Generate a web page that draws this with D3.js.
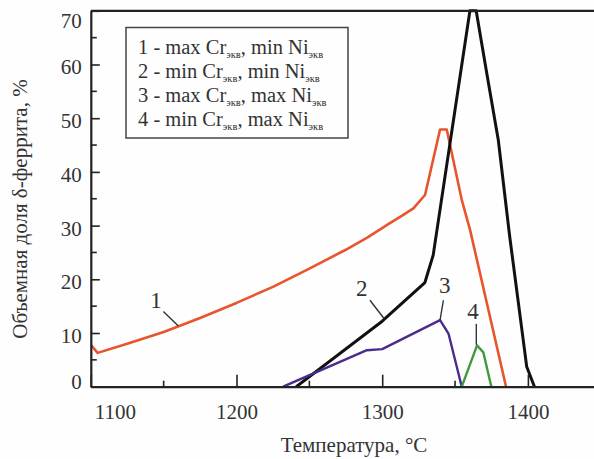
<!DOCTYPE html>
<html>
<head>
<meta charset="utf-8">
<script src="https://cdn.jsdelivr.net/npm/d3@7"></script>
<style>
  body { margin: 0; background: #fff; }
  svg { display: block; }
  text { font-family: "Liberation Serif", "Times New Roman", serif; fill: #333; }
</style>
</head>
<body>
<svg id="chart" width="594" height="459"></svg>
<script>
// Axis ticks
const xTickValues = [1100, 1200, 1300, 1400];
const xMinorTicks = [1150, 1250, 1350];
const yTickValues = [0, 10, 20, 30, 40, 50, 60, 70];
const yMinorTicks = [5, 15, 25, 35, 45, 55, 65];

// Curve 1: max Cr_экв, min Ni_экв
const temp1 = [1100, 1104.7, 1125, 1150, 1175, 1200, 1225, 1250, 1275, 1290, 1305, 1314.5, 1321.4, 1329.4, 1339.7, 1344.3, 1354.6, 1360.3, 1385];
const ferrite1 = [7.8, 6.3, 8.0, 10.2, 12.8, 15.6, 18.6, 22.0, 25.5, 27.8, 30.4, 32.0, 33.2, 35.7, 47.9, 47.9, 34.8, 29.2, 0];

// Curve 2: min Cr_экв, min Ni_экв
const temp2 = [1241, 1300, 1329.3, 1335, 1360.2, 1364.5, 1372, 1379.7, 1387.4, 1399.2, 1404.5];
const ferrite2 = [0, 12.2, 19.4, 24.5, 70, 70, 58, 45.9, 28.2, 3.7, 0];

// Curve 3: max Cr_экв, max Ni_экв
const temp3 = [1232, 1289.5, 1300, 1339.7, 1345.5, 1354.6];
const ferrite3 = [0, 6.8, 7.0, 12.4, 9.9, 0];

// Curve 4: min Cr_экв, max Ni_экв
const temp4 = [1354.6, 1365.1, 1369.4, 1374.9];
const ferrite4 = [0, 7.7, 6.4, 0];

const seriesColors = ["#e8542c", "#111111", "#4b2c8c", "#3f9a3c"];
const seriesWidths = [2.6, 3, 2.4, 2.4];

// Legend entries: number, Cr prefix, Ni prefix
const legendNums = ["1", "2", "3", "4"];
const legendCr = ["max", "min", "max", "min"];
const legendNi = ["min", "min", "max", "max"];

// Curve number callouts (data units): label position, leader start, leader end
const calloutText = ["1", "2", "3", "4"];
const calloutAt = [[1144.8, 14.6], [1285.9, 16.8], [1343, 17.4], [1362.3, 12.7]];
const leaderFrom = [[1149.8, 14.0], [1291.6, 16.1], [1342, 16.1], [1364.6, 11.7]];
const leaderTo = [[1160.1, 11.3], [1301.5, 12.6], [1339.7, 12.4], [1364.6, 7.8]];

const svg = d3.select("#chart");
svg.append("rect").attr("width", 594).attr("height", 459).attr("fill", "#fefefe");

const plotLeft = 90.8, plotTop = 10.8, plotBottom = 386.7;
const x = d3.scaleLinear().domain([1100, 1450]).range([plotLeft, plotLeft + 350 * 1.457]);
const y = d3.scaleLinear().domain([0, 70]).range([plotBottom, plotTop]);

svg.append("defs").append("clipPath").attr("id", "plot")
  .append("rect").attr("x", plotLeft).attr("y", plotTop - 2)
  .attr("width", 594 - plotLeft).attr("height", plotBottom - plotTop + 2);

// Curves
const line = d3.line().x(d => x(d[0])).y(d => y(d[1]));
const allSeries = [
  d3.zip(temp1, ferrite1),
  d3.zip(temp2, ferrite2),
  d3.zip(temp3, ferrite3),
  d3.zip(temp4, ferrite4)
];
const g = svg.append("g").attr("clip-path", "url(#plot)");
allSeries.forEach((s, i) => {
  g.append("path").datum(s)
    .attr("d", line)
    .attr("fill", "none")
    .attr("stroke", seriesColors[i])
    .attr("stroke-width", seriesWidths[i])
    .attr("stroke-linejoin", "round");
});

// Axes with inward ticks
const axisColor = "#222";
const xAxis = svg.append("g").attr("transform", `translate(0,${plotBottom})`)
  .call(d3.axisBottom(x).tickValues(xTickValues).tickSize(-12).tickSizeOuter(0).tickPadding(17).tickFormat(d3.format("d")));
xAxis.append("g").selectAll("line").data(xMinorTicks).join("line")
  .attr("x1", d => x(d)).attr("x2", d => x(d)).attr("y1", 0).attr("y2", -6)
  .attr("stroke", axisColor).attr("stroke-width", 1.6);

const yAxis = svg.append("g").attr("transform", `translate(${plotLeft},0)`)
  .call(d3.axisLeft(y).tickValues(yTickValues).tickSize(-9).tickSizeOuter(0).tickPadding(9));
yAxis.append("g").selectAll("line").data(yMinorTicks).join("line")
  .attr("x1", 0).attr("x2", 6).attr("y1", d => y(d)).attr("y2", d => y(d))
  .attr("stroke", axisColor).attr("stroke-width", 1.6);

[xAxis, yAxis].forEach(a => {
  a.select(".domain").attr("stroke", axisColor).attr("stroke-width", 2.2);
  a.selectAll(".tick line").attr("stroke", axisColor).attr("stroke-width", 1.6);
  a.selectAll(".tick text").attr("font-size", 21).attr("fill", "#333")
    .attr("font-family", '"Liberation Serif", "Times New Roman", serif');
});
// End labels nudged inward from the frame corners
xAxis.selectAll(".tick text").filter(d => d === 1100).attr("dx", 24);
yAxis.selectAll(".tick text").attr("dy", d => d === 70 ? "0.78em" : d === 0 ? "0.08em" : "0.45em");

// Top frame line
svg.append("line").attr("x1", plotLeft).attr("x2", 594).attr("y1", plotTop).attr("y2", plotTop)
  .attr("stroke", axisColor).attr("stroke-width", 2.2);

// Axis titles
svg.append("text").attr("x", 354).attr("y", 452).attr("text-anchor", "middle")
  .attr("font-size", 21).text("Температура, °C");
svg.append("text").attr("transform", "translate(27,209) rotate(-90)").attr("text-anchor", "middle")
  .attr("font-size", 21).text("Объемная доля δ-феррита, %");

// Curve callouts
calloutText.forEach((t, i) => {
  svg.append("line")
    .attr("x1", x(leaderFrom[i][0])).attr("y1", y(leaderFrom[i][1]))
    .attr("x2", x(leaderTo[i][0])).attr("y2", y(leaderTo[i][1]))
    .attr("stroke", "#333").attr("stroke-width", 1.4);
  svg.append("text").attr("x", x(calloutAt[i][0])).attr("y", y(calloutAt[i][1]))
    .attr("text-anchor", "middle").attr("font-size", 23).text(t);
});

// Legend box
svg.append("rect").attr("x", 126).attr("y", 27.5).attr("width", 222).attr("height", 110.5)
  .attr("fill", "#fefefe").attr("stroke", "#444").attr("stroke-width", 1.5);
legendNums.forEach((n, i) => {
  const t = svg.append("text").attr("x", 138).attr("y", 53.5 + i * 24).attr("font-size", 20.5);
  t.append("tspan").text(`${n} - ${legendCr[i]} Cr`);
  t.append("tspan").attr("font-size", 10.5).attr("dy", 4).text("экв");
  t.append("tspan").attr("dy", -4).text(`, ${legendNi[i]} Ni`);
  t.append("tspan").attr("font-size", 10.5).attr("dy", 4).text("экв");
});
</script>
</body>
</html>
